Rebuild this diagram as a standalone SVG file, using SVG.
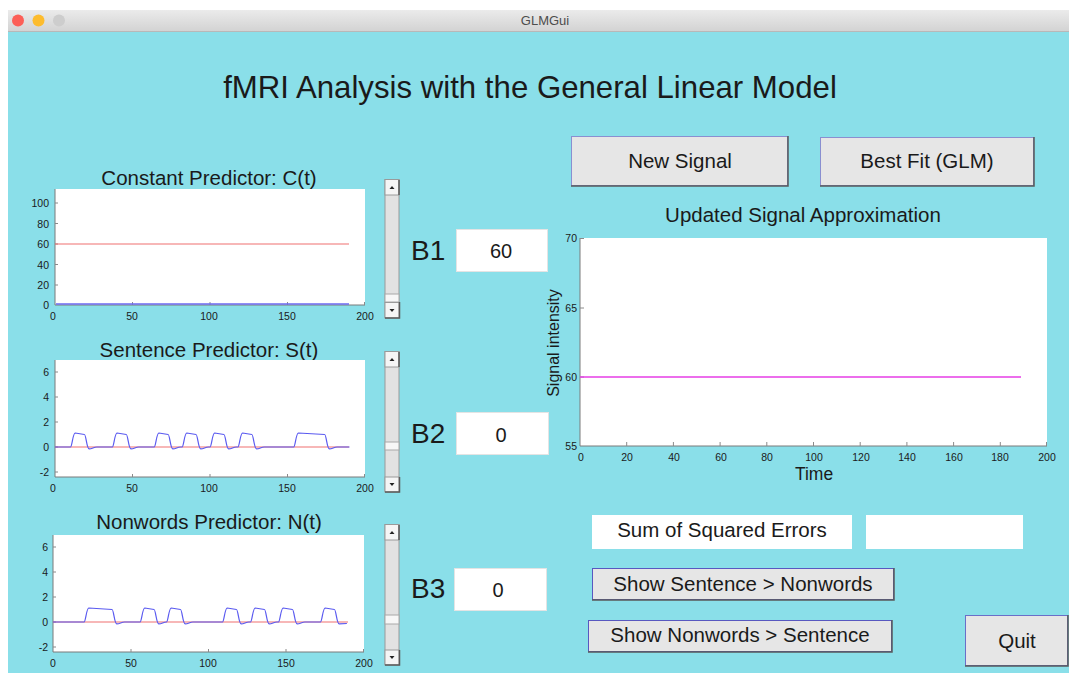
<svg xmlns="http://www.w3.org/2000/svg" width="1069" height="673" viewBox="0 0 1069 673">
<defs>
<style>
text{font-family:"Liberation Sans",Arial,Helvetica,sans-serif;fill:#1a1a1a}
.tick{font-size:10.5px;fill:#3a3a3a}
.ptitle{font-size:20.5px;text-anchor:middle}
.blabel{font-size:28px}
.val{font-size:20px;text-anchor:middle}
.btxt{font-size:20.5px;text-anchor:middle}
.plotbg{fill:#ffffff}
.axis{stroke:#7a7a7a;stroke-width:1;fill:none}
.tk{stroke:#8a8a8a;stroke-width:1}
.blue{stroke:#5a5af0;stroke-width:1.2;fill:none;vector-effect:non-scaling-stroke;stroke-linejoin:round}
.btn{fill:#e6e6e6;stroke:#8a8fd0;stroke-width:1}
.shadow{stroke:#5a5a5a;stroke-width:1.5;fill:none}
.box{fill:#ffffff;stroke:#e4e4e4;stroke-width:1}
.track{fill:#e2e2e2;stroke:#9a9a9a;stroke-width:1}
.sbtn{fill:#f5f5f5;stroke:#9a9a9a;stroke-width:1}
.thumb{fill:#f7f7f7;stroke:#a8a8a8;stroke-width:1}
.arr{fill:#222}
</style>
<linearGradient id="tb" x1="0" y1="0" x2="0" y2="1">
<stop offset="0" stop-color="#ebebeb"/>
<stop offset="1" stop-color="#d2d2d2"/>
</linearGradient>
</defs>

<rect x="0" y="0" width="1069" height="673" fill="#ffffff"/>
<g id="window">
<rect x="8" y="10" width="1061" height="22" fill="url(#tb)"/>
<line x1="8" y1="31.5" x2="1069" y2="31.5" stroke="#b8b8b8"/>
<rect x="8" y="32" width="1061" height="641" fill="#8adfe9"/>
<circle cx="18" cy="20.5" r="6" fill="#fc5f57"/>
<circle cx="38.5" cy="20.5" r="6" fill="#fdbc2e"/>
<circle cx="59" cy="20.5" r="6" fill="#cdcdcd"/>
<text x="545" y="25" font-size="13" text-anchor="middle" style="fill:#4d4d4d">GLMGui</text>
</g>

<g id="main-title">
<text x="530" y="98" font-size="31.2" text-anchor="middle">fMRI Analysis with the General Linear Model</text>
</g>

<!-- Plot 1: Constant predictor -->
<g id="plot-constant">
<text class="ptitle" x="209" y="185">Constant Predictor: C(t)</text>
<rect class="plotbg" x="55" y="189" width="310" height="116"/>
<line class="axis" x1="55" y1="189" x2="55" y2="305"/>
<line class="axis" x1="55" y1="305" x2="365" y2="305"/>
<g class="tk">
<line x1="55" y1="203" x2="58" y2="203"/><line x1="55" y1="223.5" x2="58" y2="223.5"/><line x1="55" y1="244" x2="58" y2="244"/><line x1="55" y1="264.5" x2="58" y2="264.5"/><line x1="55" y1="285" x2="58" y2="285"/>
<line x1="132.5" y1="305" x2="132.5" y2="302"/><line x1="210" y1="305" x2="210" y2="302"/><line x1="287.5" y1="305" x2="287.5" y2="302"/><line x1="364.5" y1="305" x2="364.5" y2="302"/>
</g>
<g class="tick" text-anchor="end">
<text x="49" y="207">100</text><text x="49" y="227.5">80</text><text x="49" y="248">60</text><text x="49" y="268.5">40</text><text x="49" y="289">20</text><text x="49" y="309">0</text>
</g>
<g class="tick" text-anchor="middle">
<text x="53" y="320">0</text><text x="132" y="320">50</text><text x="209" y="320">100</text><text x="287" y="320">150</text><text x="365" y="320">200</text>
</g>
<line x1="55" y1="244" x2="349" y2="244" stroke="#f07070" stroke-width="1.2"/>
<line x1="56" y1="304" x2="349" y2="304" stroke="#6a6af0" stroke-width="1.6"/>
</g>

<!-- Plot 2: Sentence predictor -->
<g id="plot-sentence">
<text class="ptitle" x="209" y="357">Sentence Predictor: S(t)</text>
<rect class="plotbg" x="55" y="360" width="310" height="117"/>
<line class="axis" x1="55" y1="360" x2="55" y2="477"/>
<line class="axis" x1="55" y1="477" x2="365" y2="477"/>
<g class="tk">
<line x1="55" y1="372" x2="58" y2="372"/><line x1="55" y1="397" x2="58" y2="397"/><line x1="55" y1="422" x2="58" y2="422"/><line x1="55" y1="447" x2="58" y2="447"/><line x1="55" y1="472" x2="58" y2="472"/>
<line x1="132.5" y1="477" x2="132.5" y2="474"/><line x1="210" y1="477" x2="210" y2="474"/><line x1="287.5" y1="477" x2="287.5" y2="474"/><line x1="364.5" y1="477" x2="364.5" y2="474"/>
</g>
<g class="tick" text-anchor="end">
<text x="49" y="376">6</text><text x="49" y="401">4</text><text x="49" y="426">2</text><text x="49" y="451">0</text><text x="49" y="476">-2</text>
</g>
<g class="tick" text-anchor="middle">
<text x="53" y="492">0</text><text x="132" y="492">50</text><text x="209" y="492">100</text><text x="287" y="492">150</text><text x="365" y="492">200</text>
</g>
<line x1="55" y1="447" x2="349" y2="447" stroke="#f07070" stroke-width="1.2"/>
<g transform="translate(55,447) scale(1.55,-12.5)">
<path class="blue" d="M0,0 L10,0 C11,0 11.5,1.12 13,1.12 L19,1 C20,1 20.5,-0.15 22,-0.15 C24,-0.15 25,0 27,0 L37,0 C38,0 38.5,1.12 40,1.12 L46,1 C47,1 47.5,-0.15 49,-0.15 C51,-0.15 52,0 54,0 L64,0 C65,0 65.5,1.12 67,1.12 L73,1 C74,1 74.5,-0.15 76,-0.15 C78,-0.15 79,0 81,0 L82,0 C83,0 83.5,1.12 85,1.12 L91,1 C92,1 92.5,-0.15 94,-0.15 C96,-0.15 97,0 99,0 L100,0 C101,0 101.5,1.12 103,1.12 L109,1 C110,1 110.5,-0.15 112,-0.15 C114,-0.15 115,0 117,0 L118,0 C119,0 119.5,1.12 121,1.12 L127,1 C128,1 128.5,-0.15 130,-0.15 C132,-0.15 133,0 135,0 L154,0 C155,0 155.5,1.12 157,1.12 L174,1 C175,1 175.5,-0.15 177,-0.15 C179,-0.15 180,0 182,0 L190,0"/>
</g>
</g>

<!-- Plot 3: Nonwords predictor -->
<g id="plot-nonwords">
<text class="ptitle" x="209" y="529">Nonwords Predictor: N(t)</text>
<rect class="plotbg" x="53" y="535" width="311" height="117"/>
<line class="axis" x1="53" y1="535" x2="53" y2="652"/>
<line class="axis" x1="53" y1="652" x2="364" y2="652"/>
<g class="tk">
<line x1="53" y1="547" x2="56" y2="547"/><line x1="53" y1="572" x2="56" y2="572"/><line x1="53" y1="597" x2="56" y2="597"/><line x1="53" y1="622" x2="56" y2="622"/><line x1="53" y1="647" x2="56" y2="647"/>
<line x1="131" y1="652" x2="131" y2="649"/><line x1="208.5" y1="652" x2="208.5" y2="649"/><line x1="286" y1="652" x2="286" y2="649"/><line x1="363.5" y1="652" x2="363.5" y2="649"/>
</g>
<g class="tick" text-anchor="end">
<text x="48" y="551">6</text><text x="48" y="576">4</text><text x="48" y="601">2</text><text x="48" y="626">0</text><text x="48" y="651">-2</text>
</g>
<g class="tick" text-anchor="middle">
<text x="53" y="667">0</text><text x="131" y="667">50</text><text x="208" y="667">100</text><text x="286" y="667">150</text><text x="364" y="667">200</text>
</g>
<line x1="53" y1="622" x2="348" y2="622" stroke="#f07070" stroke-width="1.2"/>
<g transform="translate(53,622) scale(1.555,-12.5)">
<path class="blue" d="M0,0 L20,0 C21,0 21.5,1.12 23,1.12 L38,1 C39,1 39.5,-0.15 41,-0.15 C43,-0.15 44,0 46,0 L56,0 C57,0 57.5,1.12 59,1.12 L65,1 C66,1 66.5,-0.15 68,-0.15 C70,-0.15 71,0 73,0 C74,0 74.5,1.12 76,1.12 L82,1 C83,1 83.5,-0.15 85,-0.15 C87,-0.15 88,0 90,0 L109,0 C110,0 110.5,1.12 112,1.12 L118,1 C119,1 119.5,-0.15 121,-0.15 C123,-0.15 124,0 126,0 L127,0 C128,0 128.5,1.12 130,1.12 L136,1 C137,1 137.5,-0.15 139,-0.15 C141,-0.15 142,0 144,0 L145,0 C146,0 146.5,1.12 148,1.12 L154,1 C155,1 155.5,-0.15 157,-0.15 C159,-0.15 160,0 162,0 L172,0 C173,0 173.5,1.12 175,1.12 L181,1 C182,1 182.5,-0.15 184,-0.15 L189,-0.12"/>
</g>
</g>

<!-- Sliders -->
<g id="slider-b1">
<rect class="track" x="385" y="179.5" width="14" height="138"/>
<rect class="sbtn" x="385" y="179.5" width="14" height="15.5"/>
<rect class="thumb" x="385" y="294" width="14" height="8"/>
<rect class="sbtn" x="385" y="302.5" width="14" height="15.5"/>
<polyline class="shadow" points="399,180 399,195"/>
<polyline class="shadow" points="385,318 399.5,318 399.5,302"/>
<path class="arr" d="M389.5,189 L392,186 L394.5,189 Z"/>
<path class="arr" d="M389.5,309 L392,312 L394.5,309 Z"/>
</g>
<g id="slider-b2">
<rect class="track" x="385" y="351.5" width="14" height="140"/>
<rect class="sbtn" x="385" y="351.5" width="14" height="15.5"/>
<rect class="thumb" x="385" y="442" width="14" height="8"/>
<rect class="sbtn" x="385" y="477" width="14" height="15"/>
<polyline class="shadow" points="399,352 399,367"/>
<polyline class="shadow" points="385,492 399.5,492 399.5,477"/>
<path class="arr" d="M389.5,361 L392,358 L394.5,361 Z"/>
<path class="arr" d="M389.5,483 L392,486 L394.5,483 Z"/>
</g>
<g id="slider-b3">
<rect class="track" x="385" y="524.5" width="14" height="140"/>
<rect class="sbtn" x="385" y="524.5" width="14" height="15.5"/>
<rect class="thumb" x="385" y="615" width="14" height="9"/>
<rect class="sbtn" x="385" y="650" width="14" height="15"/>
<polyline class="shadow" points="399,525 399,540"/>
<polyline class="shadow" points="385,665 399.5,665 399.5,650"/>
<path class="arr" d="M389.5,534 L392,531 L394.5,534 Z"/>
<path class="arr" d="M389.5,656 L392,659 L394.5,656 Z"/>
</g>

<!-- Coefficient labels and value boxes -->
<g id="b1">
<text class="blabel" x="411" y="260">B1</text>
<rect class="box" x="456.5" y="229.5" width="91" height="42"/>
<text class="val" x="501" y="258">60</text>
</g>
<g id="b2">
<text class="blabel" x="411" y="443">B2</text>
<rect class="box" x="456.5" y="412.5" width="92" height="42"/>
<text class="val" x="501" y="442">0</text>
</g>
<g id="b3">
<text class="blabel" x="411" y="598">B3</text>
<rect class="box" x="454.5" y="568.5" width="92" height="42"/>
<text class="val" x="498" y="597">0</text>
</g>

<!-- Buttons top right -->
<g id="btn-new-signal">
<rect class="btn" x="571.5" y="136.5" width="216" height="49"/>
<polyline class="shadow" points="571,186 788,186 788,136"/>
<text class="btxt" x="680" y="168">New Signal</text>
</g>
<g id="btn-best-fit">
<rect class="btn" x="820.5" y="137.5" width="213" height="48"/>
<polyline class="shadow" points="820,186 1034,186 1034,137"/>
<text class="btxt" x="927" y="168">Best Fit (GLM)</text>
</g>

<!-- Right plot -->
<g id="plot-signal">
<text class="ptitle" x="803" y="222">Updated Signal Approximation</text>
<rect class="plotbg" x="580" y="238" width="467" height="208"/>
<line class="axis" x1="580" y1="238" x2="580" y2="446"/>
<line class="axis" x1="580" y1="446" x2="1047" y2="446"/>
<g class="tk">
<line x1="580" y1="238.5" x2="584" y2="238.5"/><line x1="580" y1="308" x2="584" y2="308"/><line x1="580" y1="377" x2="584" y2="377"/>
<line x1="626.7" y1="446" x2="626.7" y2="442"/><line x1="673.4" y1="446" x2="673.4" y2="442"/><line x1="720.1" y1="446" x2="720.1" y2="442"/><line x1="766.8" y1="446" x2="766.8" y2="442"/><line x1="813.5" y1="446" x2="813.5" y2="442"/><line x1="860.2" y1="446" x2="860.2" y2="442"/><line x1="906.9" y1="446" x2="906.9" y2="442"/><line x1="953.6" y1="446" x2="953.6" y2="442"/><line x1="1000.3" y1="446" x2="1000.3" y2="442"/><line x1="1046.5" y1="446" x2="1046.5" y2="442"/>
</g>
<g class="tick" text-anchor="end" font-size="10">
<text x="577" y="242">70</text><text x="577" y="312">65</text><text x="577" y="381">60</text><text x="577" y="450">55</text>
</g>
<g class="tick" text-anchor="middle">
<text x="581" y="461">0</text><text x="627" y="461">20</text><text x="674" y="461">40</text><text x="721" y="461">60</text><text x="767" y="461">80</text><text x="814" y="461">100</text><text x="861" y="461">120</text><text x="907" y="461">140</text><text x="954" y="461">160</text><text x="1000" y="461">180</text><text x="1047" y="461">200</text>
</g>
<text x="814" y="480" font-size="17.5" text-anchor="middle">Time</text>
<text transform="translate(559,343) rotate(-90)" font-size="16" text-anchor="middle">Signal intensity</text>
<line x1="580" y1="377" x2="1021" y2="377" stroke="#e63ee6" stroke-width="1.3"/>
</g>

<!-- SSE -->
<g id="sse-label">
<rect x="592" y="515" width="260" height="34" fill="#ffffff"/>
<text class="btxt" x="722" y="537">Sum of Squared Errors</text>
</g>
<g id="sse-value">
<rect x="866" y="515" width="157" height="34" fill="#ffffff"/>
</g>

<!-- Contrast buttons -->
<g id="btn-sent-gt-non">
<rect x="592.5" y="568.5" width="301" height="31" fill="#e6e6e6" stroke="#5858c0"/>
<polyline class="shadow" points="592,600 894,600 894,568"/>
<text class="btxt" x="743" y="591">Show Sentence &gt; Nonwords</text>
</g>
<g id="btn-non-gt-sent">
<rect x="588.5" y="620.5" width="303" height="31" fill="#e6e6e6" stroke="#5858c0"/>
<polyline class="shadow" points="588,652 892,652 892,620"/>
<text class="btxt" x="740" y="642">Show Nonwords &gt; Sentence</text>
</g>
<g id="btn-quit">
<rect x="965.5" y="615.5" width="102" height="50" fill="#e6e6e6" stroke="#6a6fc8"/>
<polyline class="shadow" points="965,666 1068,666 1068,615"/>
<text class="btxt" x="1017" y="648">Quit</text>
</g>
</svg>
